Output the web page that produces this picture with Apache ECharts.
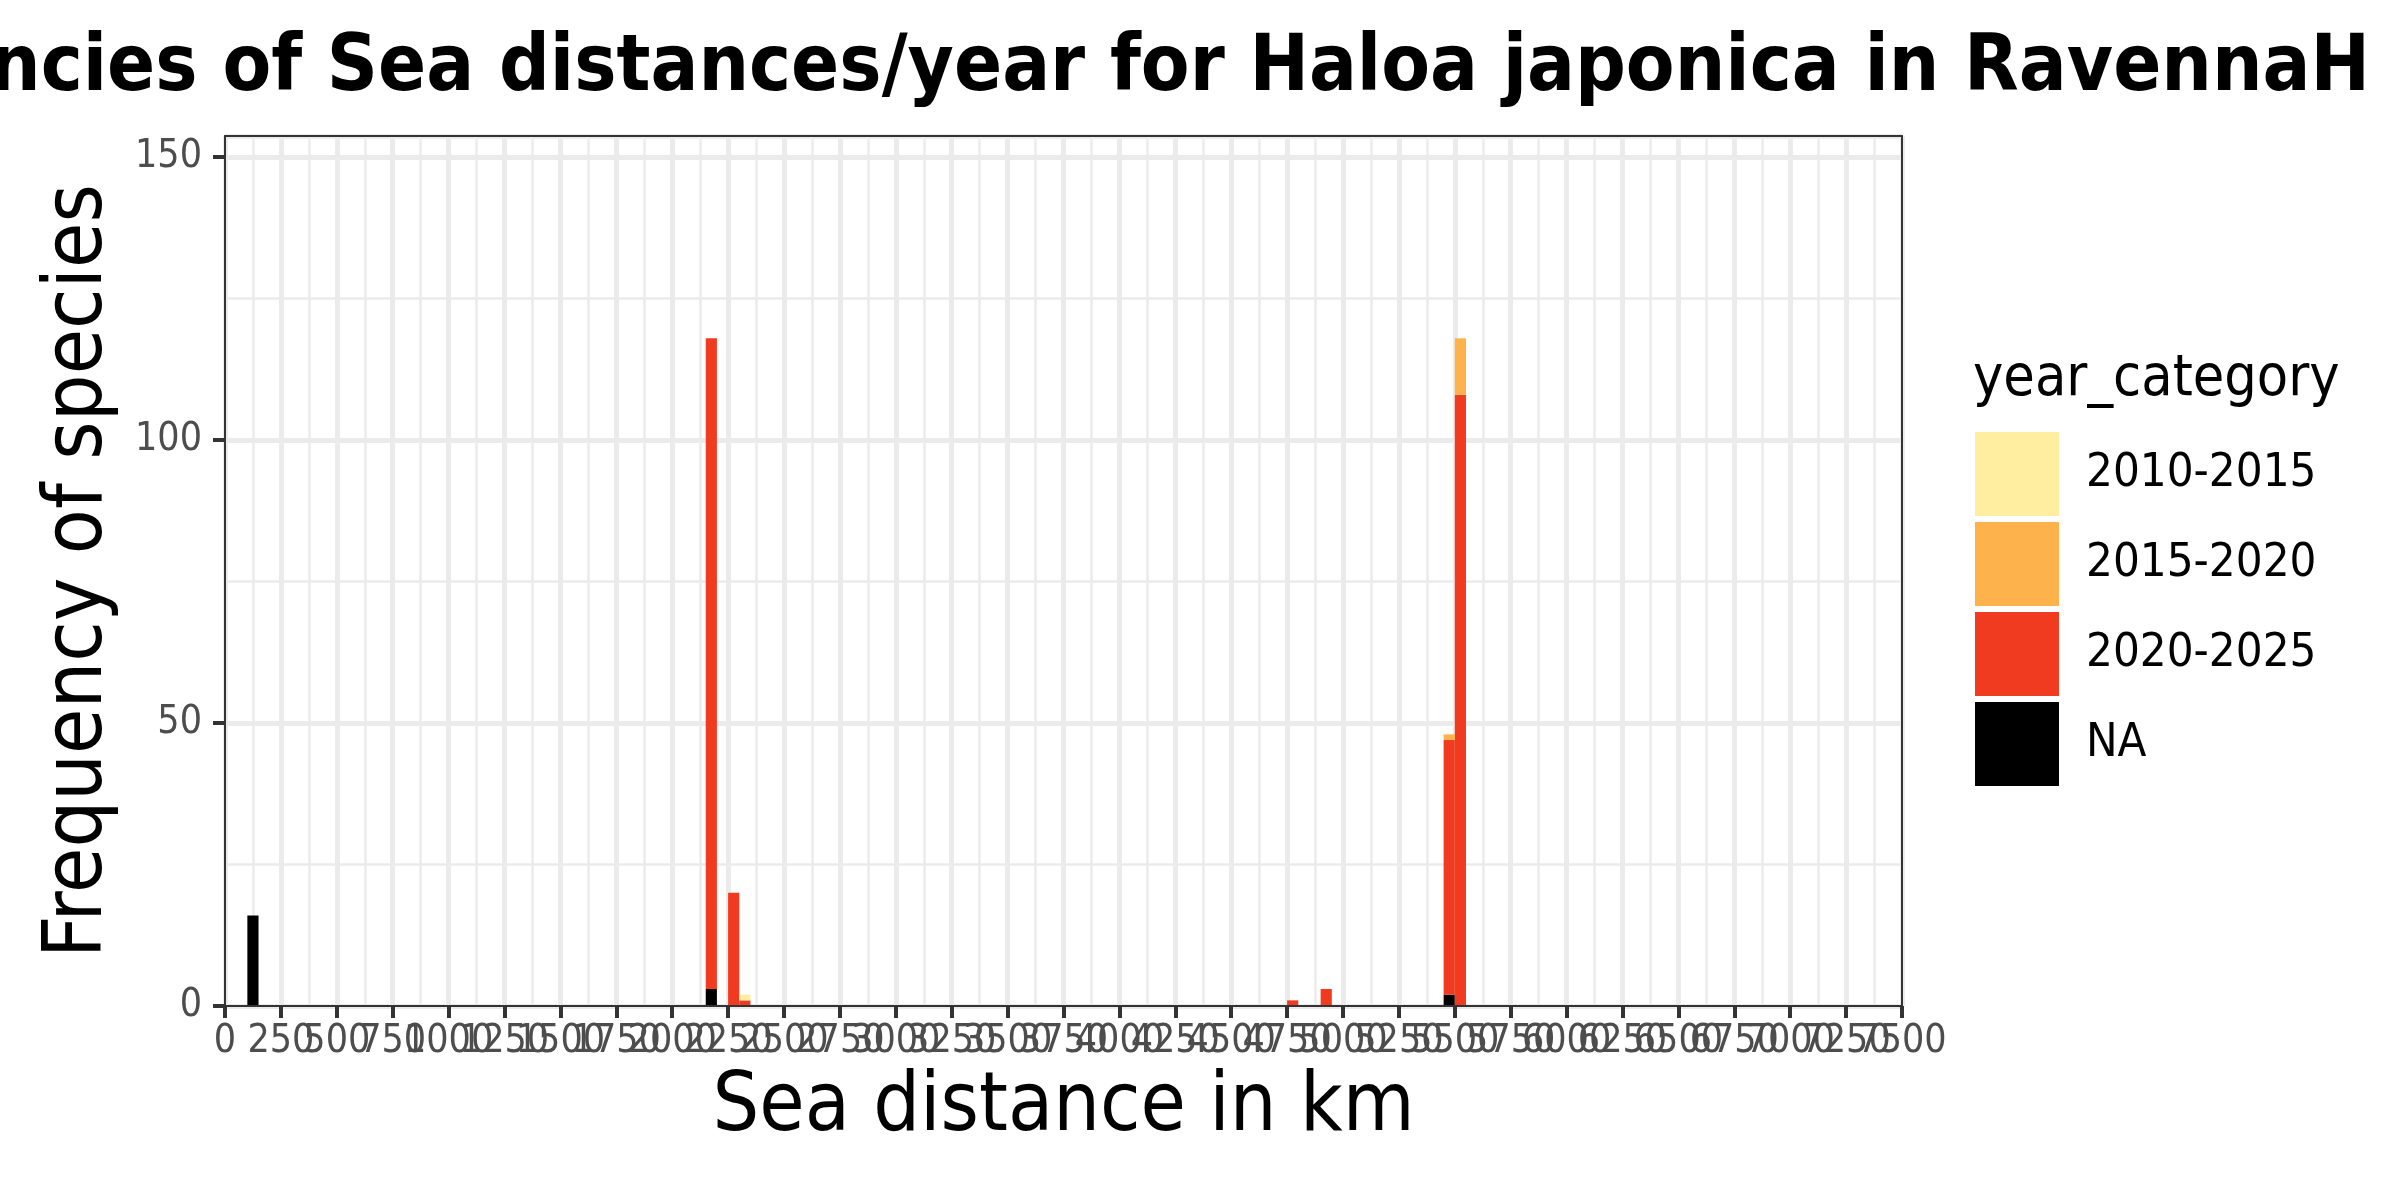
<!DOCTYPE html>
<html><head><meta charset="utf-8">
<script src="https://cdn.jsdelivr.net/npm/echarts@6/dist/echarts.min.js"></script>
<style>html,body{margin:0;padding:0;background:#fff}#c{width:2400px;height:1200px}</style>
</head><body><div id="c"></div>
<script>
// ---------- data ----------
const titleText = 'Frequencies of Sea distances/year for Haloa japonica in RavennaH';
const xAxisTitle = 'Sea distance in km';
const yAxisTitle = 'Frequency of species';
const legendTitle = 'year_category';
const categories = ['2010-2015', '2015-2020', '2020-2025', 'NA'];
const categoryColors = ['#FFEDA0', '#FEB24C', '#F03B20', '#000000'];
const binStarts = [100, 2150, 2250, 2300, 4750, 4900, 5450, 5500];
const binWidth = 50;
const countsNA        = [16, 3, 0, 0, 0, 0, 2, 0];
const counts2020_2025 = [0, 115, 20, 1, 1, 3, 45, 108];
const counts2015_2020 = [0, 0, 0, 0, 0, 0, 1, 10];
const counts2010_2015 = [0, 0, 0, 1, 0, 0, 0, 0];
const xTickLabels = [0,250,500,750,1000,1250,1500,1750,2000,2250,2500,2750,3000,3250,3500,3750,4000,4250,4500,4750,5000,5250,5500,5750,6000,6250,6500,6750,7000,7250,7500];
const yTickLabels = [0, 50, 100, 150];
const xMin = 0, xMax = 7500, yMin = 0, yMax = 153.75;

// ---------- layout / style ----------
const FONT = '"DejaVu Sans Condensed", "DejaVu Sans", sans-serif';
const grid = { left: 225, right: 498, top: 136, bottom: 194 };

// stack order bottom -> top
const stackOrder = [
  { name: 'NA', counts: countsNA },
  { name: '2020-2025', counts: counts2020_2025 },
  { name: '2015-2020', counts: counts2015_2020 },
  { name: '2010-2015', counts: counts2010_2015 }
];
const base = binStarts.map(() => 0);
function renderBar(params, api) {
  const tl = api.coord([api.value(0), api.value(3)]);
  const br = api.coord([api.value(1), api.value(2)]);
  return { type: 'rect', shape: { x: tl[0], y: tl[1], width: br[0] - tl[0], height: br[1] - tl[1] },
           style: { fill: api.visual('color') } };
}
const series = stackOrder.map(s => {
  const data = [];
  s.counts.forEach((c, i) => {
    if (c > 0) data.push([binStarts[i], binStarts[i] + binWidth, base[i], base[i] + c]);
    base[i] += c;
  });
  return {
    type: 'custom', name: s.name, xAxisIndex: 0, yAxisIndex: 0, z: 2,
    itemStyle: { color: categoryColors[categories.indexOf(s.name)] },
    encode: { x: [0, 1], y: [2, 3] },
    renderItem: renderBar, data: data
  };
});

const axisColor = '#333333';
const gridColor = '#EBEBEB';
const hidden = { axisLine: { show: false, onZero: false }, axisTick: { show: false }, axisLabel: { show: false } };
const borderLine = { axisLine: { show: true, onZero: false, lineStyle: { color: axisColor, width: 2 } } };
// tick labels alternate between two label rows so that every (overlapping) label is drawn
const xLabelsEven = xTickLabels.filter((v, i) => i % 2 === 0);
const xLabelsOdd = xTickLabels.filter((v, i) => i % 2 === 1);
const xLabelStyle = { show: true, margin: 16, fontFamily: FONT, fontSize: 39, color: '#4D4D4D', hideOverlap: false,
                      showMinLabel: true, showMaxLabel: true, formatter: v => String(v) };

const option = {
  animation: false,
  backgroundColor: '#ffffff',
  textStyle: { fontFamily: FONT },
  title: [
    { text: titleText, right: 30, top: 30, padding: 0,
      textStyle: { fontFamily: FONT, fontSize: 79, fontWeight: 'bold', color: '#000' } },
    { text: legendTitle, left: 1973, top: 352, padding: 0,
      textStyle: { fontFamily: FONT, fontSize: 57, fontWeight: 'normal', color: '#000' } }
  ],
  legend: {
    data: categories, orient: 'vertical', left: 1975, top: 432, padding: 0,
    itemWidth: 84, itemHeight: 84, itemGap: 6, icon: 'rect', selectedMode: false,
    textStyle: { fontFamily: FONT, fontSize: 47, color: '#000', padding: [0, 0, 0, 22] }
  },
  grid: Object.assign({ containLabel: false }, grid),
  xAxis: [
    { type: 'value', position: 'bottom', min: xMin, max: xMax, interval: 250, z: 5,
      axisLine: { show: true, onZero: false, lineStyle: { color: axisColor, width: 2 } },
      axisTick: { show: true, length: 12, lineStyle: { color: axisColor, width: 4 }, customValues: xTickLabels },
      axisLabel: Object.assign({ customValues: xLabelsEven }, xLabelStyle),
      splitLine: { show: false },
      name: xAxisTitle, nameLocation: 'middle', nameGap: 62,
      nameTextStyle: { fontFamily: FONT, fontSize: 82, color: '#000' } },
    { type: 'value', position: 'bottom', min: xMin, max: xMax, interval: 250, z: 5,
      axisLine: { show: false, onZero: false }, axisTick: { show: false }, splitLine: { show: false },
      axisLabel: Object.assign({ customValues: xLabelsOdd }, xLabelStyle) },
    Object.assign({ type: 'value', position: 'top', min: xMin, max: xMax, interval: 250, z: 5,
      splitLine: { show: false } }, hidden, borderLine),
    Object.assign({ type: 'value', position: 'bottom', min: xMin, max: xMax, interval: 250, z: 0,
      splitLine: { show: true, lineStyle: { color: gridColor, width: 5 } } }, hidden),
    Object.assign({ type: 'value', position: 'bottom', min: xMin, max: xMax, interval: 125, z: 0,
      splitLine: { show: true, lineStyle: { color: gridColor, width: 2.5 } } }, hidden)
  ],
  yAxis: [
    { type: 'value', position: 'left', min: yMin, max: yMax, interval: 50, z: 5,
      axisLine: { show: true, onZero: false, lineStyle: { color: axisColor, width: 2 } },
      axisTick: { show: true, length: 12, lineStyle: { color: axisColor, width: 4 }, customValues: yTickLabels },
      axisLabel: { show: true, margin: 23, fontFamily: FONT, fontSize: 39, color: '#4D4D4D',
                   showMinLabel: true, showMaxLabel: true,
                   customValues: yTickLabels, formatter: v => String(v) },
      splitLine: { show: false },
      name: yAxisTitle, nameLocation: 'middle', nameGap: 104,
      nameTextStyle: { fontFamily: FONT, fontSize: 82, color: '#000' } },
    Object.assign({ type: 'value', position: 'right', min: yMin, max: yMax, interval: 50, z: 5,
      splitLine: { show: false } }, hidden, borderLine),
    Object.assign({ type: 'value', position: 'left', min: yMin, max: yMax, interval: 50, z: 0,
      splitLine: { show: true, lineStyle: { color: gridColor, width: 5 } } }, hidden),
    Object.assign({ type: 'value', position: 'left', min: yMin, max: yMax, interval: 25, z: 0,
      splitLine: { show: true, lineStyle: { color: gridColor, width: 2.5 } } }, hidden)
  ],
  series: series
};
const chart = echarts.init(document.getElementById('c'), null, { renderer: 'canvas' });
chart.setOption(option);
</script></body></html>
